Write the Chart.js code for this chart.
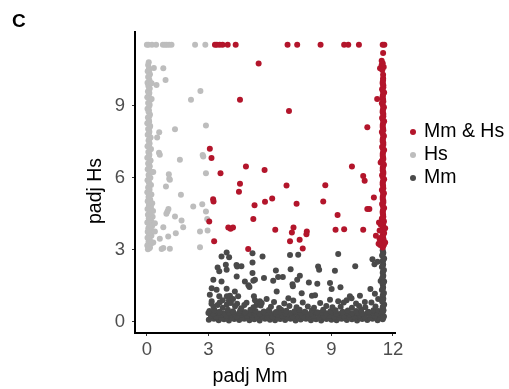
<!DOCTYPE html>
<html>
<head>
<meta charset="utf-8">
<script src="https://cdn.jsdelivr.net/npm/chart.js@4/dist/chart.umd.min.js"></script>
<style>
  html, body { margin: 0; padding: 0; background: #fff; }
  #c { display: block; }
</style>
</head>
<body>
<canvas id="c" width="509" height="389"></canvas>
<script>
// Axis ticks and titles
const xTicks = [0, 3, 6, 9, 12];
const yTicks = [0, 3, 6, 9];
const xTitle = 'padj Mm';
const yTitle = 'padj Hs';
const panelLabel = 'C';

// Series labels (legend order)
const seriesLabels = ['Mm & Hs', 'Hs', 'Mm'];

// Mm & Hs (red) - [padj Mm, padj Hs]
const bothPoints = [
  // top row (capped)
  [3.32,11.55],[3.41,11.55],[3.55,11.55],[3.69,11.55],[3.94,11.55],[4.33,11.55],
  [6.86,11.55],[7.33,11.55],[8.47,11.55],[9.62,11.55],[9.82,11.55],[10.34,11.55],
  [11.5,11.55],[11.58,11.55],
  // scattered
  [5.45,10.77],[6.93,8.79],[4.54,9.25],[11.37,10.57],[11.23,9.29],[10.75,8.11],
  [3.07,7.21],[3.15,6.83],[4.83,6.47],[3.59,6.19],[5.74,6.33],[10.0,6.47],
  [10.55,6.08],[10.62,5.88],[11.4,6.64],[4.54,5.75],[4.49,5.42],[6.81,5.68],
  [8.7,5.69],[3.23,5.11],[3.25,5.01],[5.25,4.86],[5.76,5.0],[6.11,5.14],
  [7.3,4.92],[8.6,5.01],[11.07,5.18],[10.75,4.7],[10.85,4.7],[9.3,4.45],
  [5.19,4.28],[3.04,4.18],[3.97,3.93],[4.08,3.88],[4.2,3.93],[6.26,3.83],
  [7.15,3.93],[7.07,3.72],[7.8,3.76],[7.78,3.65],[9.2,3.83],[9.62,3.86],
  [10.55,3.83],[11.32,4.14],[11.17,3.58],[3.28,3.36],[6.98,3.36],[7.45,3.42],
  [7.6,3.05],[4.94,3.03],
  // right-hand column
  [11.5,3.1],[11.56,3.21],[11.46,3.35],[11.53,3.46],[11.5,3.59],[11.57,3.7],
  [11.47,3.83],[11.53,3.95],[11.5,4.05],[11.56,4.19],[11.46,4.3],[11.52,4.46],
  [11.5,4.6],[11.57,4.74],[11.47,4.91],[11.53,5.04],[11.5,5.2],[11.56,5.36],
  [11.46,5.49],[11.52,5.66],[11.5,5.8],[11.57,5.94],[11.47,6.11],[11.53,6.24],
  [11.5,6.41],[11.56,6.54],[11.46,6.71],[11.52,6.85],[11.5,7.0],[11.57,7.16],
  [11.47,7.29],[11.53,7.46],[11.5,7.6],[11.56,7.74],[11.46,7.91],[11.52,8.05],
  [11.5,8.2],[11.57,8.36],[11.47,8.49],[11.53,8.66],[11.5,8.8],[11.56,8.94],
  [11.46,9.11],[11.52,9.25],[11.5,9.4],[11.57,9.56],[11.47,9.69],[11.53,9.86],
  [11.5,10.0],[11.52,10.15],[11.52,10.3],[11.48,10.5],[11.55,10.62],[11.45,10.7],
  [11.5,10.78],[11.45,10.88],[11.52,11.2],
  [11.52,3.16],[11.5,3.28],[11.54,3.4],[11.5,3.52],[11.53,3.64],[11.5,3.76],
  [11.52,3.89],[11.5,4.0],[11.53,4.12],[11.51,4.24],[11.53,4.38],[11.5,4.53],
  [11.52,4.67],[11.51,4.82],[11.53,4.97],[11.5,5.12],[11.52,5.28],[11.51,5.42],
  [11.53,5.57],[11.5,5.73],[11.52,5.87],[11.51,6.02],[11.53,6.17],[11.5,6.32],
  [11.52,6.47],[11.51,6.62],[11.53,6.78],[11.5,6.92],[11.52,7.08],[11.51,7.22],
  [11.53,7.38],[11.5,7.53],[11.52,7.67],[11.51,7.82],[11.53,7.98],[11.5,8.12],
  [11.52,8.28],[11.51,8.42],[11.53,8.57],[11.5,8.73],[11.52,8.87],[11.51,9.02],
  [11.53,9.18],[11.5,9.32],[11.52,9.48],[11.51,9.62],[11.53,9.78],[11.5,9.93],
  [11.52,10.08],
  [11.38,3.2],[11.42,3.5],[11.35,3.8],[11.4,4.05],[11.62,3.3],[11.62,3.9],
  [11.35,3.45],[11.3,3.25]
];

// Hs only (light grey)
const hsPoints = [
  // top row (capped)
  [0.0,11.55],[0.08,11.55],[0.25,11.55],[0.45,11.55],[0.78,11.55],[0.88,11.55],
  [0.97,11.55],[1.08,11.55],[1.2,11.55],[2.35,11.55],[2.85,11.55],
  // left column
  [0.05,3.02],[0.15,3.1],[0.02,3.18],[0.2,3.25],[0.08,3.33],[0.14,3.42],
  [0.03,3.5],[0.22,3.58],[0.1,3.66],[0.04,3.75],[0.18,3.82],[0.07,3.9],
  [0.25,3.98],[0.12,4.06],[0.02,4.14],[0.2,4.22],[0.09,4.3],[0.28,4.38],
  [0.05,4.46],[0.15,4.55],[0.3,4.62],[0.03,4.7],[0.2,4.78],[0.1,4.86],
  [0.26,4.94],[0.04,5.02],[0.16,5.1],[0.08,5.2],[0.22,5.3],[0.02,5.4],
  [0.13,5.5],[0.06,5.6],[0.2,5.7],[0.1,5.8],[0.03,5.9],[0.17,6.0],
  [0.08,6.12],[0.22,6.24],[0.04,6.36],[0.14,6.48],[0.06,6.6],[0.18,6.72],
  [0.02,6.84],[0.12,6.96],[0.07,7.08],[0.2,7.2],[0.03,7.32],[0.13,7.44],
  [0.08,7.56],[0.18,7.68],[0.04,7.8],[0.12,7.92],[0.06,8.04],[0.16,8.16],
  [0.02,8.28],[0.1,8.4],[0.05,8.52],[0.15,8.64],[0.08,8.76],[0.03,8.88],
  [0.12,9.0],[0.06,9.12],[0.16,9.24],[0.02,9.36],[0.1,9.48],[0.05,9.6],
  [0.14,9.72],[0.07,9.84],[0.03,9.96],[0.12,10.08],[0.06,10.2],[0.15,10.32],
  [0.04,10.44],[0.1,10.56],[0.06,10.7],[0.09,10.82],
  [0.12,3.06],[0.1,3.22],[0.13,3.38],[0.11,3.55],[0.12,3.7],[0.1,3.86],
  [0.13,4.02],[0.11,4.18],[0.12,4.34],[0.1,4.5],[0.13,4.66],[0.11,4.82],
  [0.12,4.98],[0.1,5.15],[0.13,5.35],[0.11,5.55],[0.12,5.75],[0.1,5.95],
  [0.13,6.18],[0.11,6.42],[0.12,6.66],[0.1,6.9],[0.13,7.14],[0.11,7.38],
  [0.12,7.62],[0.1,7.86],[0.13,8.1],[0.11,8.34],[0.12,8.58],[0.1,8.82],
  [0.13,9.06],[0.11,9.3],[0.12,9.54],[0.1,9.78],[0.13,10.02],[0.11,10.26],
  [0.12,10.5],
  // scattered
  [0.34,10.58],[0.8,10.57],[0.91,10.08],[0.47,9.87],[0.23,9.94],[2.61,9.62],
  [0.23,9.29],[2.15,9.25],[2.88,8.18],[1.37,8.03],[0.6,7.9],[0.5,7.68],
  [0.59,7.05],[0.63,6.96],[2.75,6.89],[2.72,6.95],[1.61,6.75],[0.31,6.24],
  [1.07,6.15],[2.88,6.19],[1.09,5.96],[1.12,5.92],[0.93,5.64],[1.66,5.29],
  [2.26,4.8],[2.7,4.9],[2.88,4.6],[0.95,4.5],[1.0,4.6],[1.05,4.7],
  [1.37,4.39],[1.69,4.22],[2.94,4.28],[0.39,4.11],[0.8,3.94],[1.77,3.94],
  [0.39,3.76],[2.59,3.76],[2.96,3.8],[1.41,3.69],[1.04,3.55],[0.63,3.46],
  [0.31,3.3],[0.8,3.07],[1.12,3.04],[2.59,3.11],[0.72,3.03]
];

// Mm only (dark grey)
const mmPoints = [
  // scattered upper part
  [3.89,2.89],[3.64,2.72],[4.01,2.69],[3.45,2.26],[3.85,2.38],[4.37,2.37],
  [4.4,2.3],[4.61,2.31],[3.89,2.17],[3.53,2.1],[4.38,1.89],[3.24,1.75],
  [3.64,1.68],[4.78,1.68],[4.95,1.52],[5.0,1.45],[5.27,1.75],[3.16,1.4],
  [3.4,1.33],[3.89,1.38],[4.29,1.26],[3.07,1.13],[3.53,1.06],[3.9,1.06],
  [4.05,1.08],[4.45,1.06],[3.16,0.85],[3.7,0.9],[4.0,0.88],[4.2,0.95],
  [4.86,0.79],[3.15,0.75],[3.45,0.7],[3.9,0.72],[4.4,0.75],[4.75,0.7],
  [5.27,0.9],[5.35,0.7],
  [5.15,2.86],[5.64,2.72],[6.98,2.78],[7.38,2.79],[9.33,2.82],[5.15,2.47],
  [11.0,2.6],[11.1,2.4],[11.25,2.5],[6.29,2.14],[7.01,2.19],[8.35,2.3],
  [8.4,2.17],[9.17,2.13],[10.16,2.31],[5.15,2.03],[7.46,1.92],[6.4,1.87],
  [6.63,1.87],[6.16,1.71],[5.71,1.82],[5.19,1.71],[7.33,1.75],[7.9,1.64],
  [8.31,1.58],[8.93,1.61],[7.1,1.56],[7.12,1.48],[9.44,1.44],[11.4,1.7],
  [9.01,1.36],[10.9,1.36],[6.33,1.26],[7.55,1.19],[8.05,1.08],[8.2,1.1],
  [10.39,1.08],[11.12,1.17],[5.22,1.06],[9.9,1.06],
  [5.84,0.95],[5.51,0.85],[6.9,0.98],[7.14,0.88],[8.93,0.92],[9.33,0.85],
  [9.74,0.9],[9.98,0.98],[10.63,0.82],[11.28,0.95],
  // dense band near zero
  [3.02,0.08],[3.27,0.12],[3.5,0.06],[3.76,0.1],[4.0,0.05],[4.26,0.11],
  [4.5,0.07],[4.75,0.12],[5.0,0.06],[5.24,0.1],[5.5,0.05],[5.76,0.12],
  [6.0,0.08],[6.25,0.06],[6.5,0.11],[6.74,0.07],[7.0,0.12],[7.25,0.05],
  [7.5,0.09],[7.76,0.12],[8.0,0.06],[8.25,0.1],[8.5,0.05],[8.76,0.11],
  [9.0,0.08],[9.25,0.06],[9.5,0.12],[9.75,0.07],[10.0,0.1],[10.25,0.05],
  [10.5,0.11],[10.75,0.07],[11.0,0.12],[11.25,0.06],
  [3.15,0.17],[3.4,0.19],[3.65,0.15],[3.9,0.18],[4.15,0.16],[4.4,0.19],
  [4.65,0.15],[4.9,0.18],[5.15,0.17],[5.4,0.15],[5.65,0.19],[5.9,0.16],
  [6.15,0.18],[6.4,0.15],[6.65,0.19],[6.9,0.17],[7.15,0.15],[7.4,0.18],
  [7.65,0.16],[7.9,0.19],[8.15,0.15],[8.4,0.17],[8.65,0.19],[8.9,0.16],
  [9.15,0.18],[9.4,0.15],[9.65,0.17],[9.9,0.19],[10.15,0.16],[10.4,0.18],
  [10.65,0.15],[10.9,0.17],[11.15,0.19],[11.38,0.16],
  [3.12,0.26],[3.38,0.22],[3.63,0.3],[3.88,0.24],[4.13,0.28],[4.38,0.22],
  [4.63,0.3],[4.88,0.25],[5.12,0.29],[5.38,0.23],[5.62,0.27],[5.88,0.3],
  [6.12,0.22],[6.38,0.28],[6.62,0.25],[6.88,0.3],[7.12,0.23],[7.38,0.27],
  [7.62,0.22],[7.88,0.29],[8.12,0.25],[8.38,0.3],[8.62,0.23],[8.88,0.27],
  [9.12,0.22],[9.38,0.29],[9.62,0.25],[9.88,0.3],[10.12,0.23],[10.38,0.27],
  [10.62,0.22],[10.88,0.29],[11.12,0.25],[11.32,0.3],
  [3.0,0.36],[3.25,0.34],[3.5,0.38],[3.75,0.35],[4.0,0.37],[4.25,0.34],
  [4.5,0.36],[4.75,0.38],[5.0,0.35],[5.25,0.37],[5.5,0.34],[5.75,0.36],
  [6.0,0.38],[6.25,0.35],[6.5,0.37],[6.75,0.34],[7.0,0.36],[7.25,0.38],
  [7.5,0.35],[7.75,0.37],[8.0,0.34],[8.25,0.36],[8.5,0.38],[8.75,0.35],
  [9.0,0.37],[9.25,0.34],[9.5,0.36],[9.75,0.38],[10.0,0.35],[10.25,0.37],
  [10.5,0.34],[10.75,0.36],[11.0,0.38],[11.25,0.35],
  [3.05,0.45],[3.3,0.48],[3.55,0.42],[3.95,0.5],[4.2,0.44],[4.55,0.47],
  [4.8,0.4],[5.05,0.5],[5.3,0.45],[5.7,0.43],[5.95,0.49],[6.3,0.41],
  [6.55,0.5],[6.8,0.46],[7.2,0.44],[7.45,0.5],[7.7,0.42],[8.05,0.47],
  [8.3,0.4],[8.6,0.5],[8.95,0.44],[9.2,0.48],[9.55,0.42],[9.8,0.47],
  [10.2,0.45],[10.45,0.5],[10.8,0.42],[11.05,0.48],[11.3,0.45],
  [3.25,0.62],[3.7,0.58],[4.3,0.65],[4.6,0.56],[5.2,0.6],[5.55,0.68],
  [6.05,0.62],[6.45,0.57],[6.95,0.66],[7.3,0.6],[7.85,0.64],[8.15,0.58],
  [8.75,0.66],[9.05,0.6],[9.45,0.62],[10.0,0.58],[10.35,0.66],[10.65,0.6],
  [11.15,0.64],
  [3.55,0.8],[4.1,0.78],[5.6,0.78],[6.2,0.82],[6.7,0.76],[7.6,0.8],
  [8.45,0.78],[9.6,0.8],[10.2,0.76],[10.95,0.8],
  // right-hand column
  [11.5,0.1],[11.56,0.22],[11.46,0.35],[11.54,0.48],[11.5,0.6],[11.57,0.72],
  [11.47,0.84],[11.53,0.96],[11.5,1.08],[11.56,1.2],[11.46,1.32],[11.52,1.44],
  [11.5,1.56],[11.57,1.68],[11.47,1.8],[11.53,1.92],[11.5,2.04],[11.56,2.16],
  [11.46,2.28],[11.52,2.4],[11.5,2.52],[11.57,2.64],[11.47,2.76],[11.53,2.88],
  [11.5,2.98],
  [11.52,0.16],[11.51,0.42],[11.53,0.66],[11.51,0.9],[11.52,1.14],[11.51,1.38],
  [11.53,1.62],[11.51,1.86],[11.52,2.1],[11.51,2.34],[11.53,2.58],[11.51,2.82]
];

const seriesColors = ['#b3152b', '#bdbdbd', '#4a4a4a'];

const FONT = '"Liberation Sans", Arial, Helvetica, sans-serif';

const toXY = pts => pts.map(p => ({ x: p[0], y: p[1] }));

// Titles, panel letter and legend drawn by hand to match ggplot placement
const decor = {
  id: 'decor',
  afterDraw(chart) {
    const ctx = chart.ctx;
    ctx.save();
    ctx.fillStyle = '#000';
    ctx.textBaseline = 'middle';

    ctx.font = 'bold 19px ' + FONT;
    ctx.textAlign = 'left';
    ctx.fillText(panelLabel, 12, 22);

    ctx.font = '19.5px ' + FONT;
    ctx.textAlign = 'center';
    ctx.fillText(xTitle, 250, 377);

    ctx.save();
    ctx.translate(96, 191);
    ctx.rotate(-Math.PI / 2);
    ctx.fillText(yTitle, 0, 0);
    ctx.restore();

    // legend
    ctx.textAlign = 'left';
    chart.data.datasets.forEach((ds, i) => {
      const y = 132 + i * 23;
      ctx.fillStyle = ds.backgroundColor;
      ctx.beginPath();
      ctx.arc(413, y, 3, 0, Math.PI * 2);
      ctx.fill();
      ctx.fillStyle = '#000';
      ctx.fillText(ds.label, 424, y);
    });
    ctx.restore();
  }
};

const ctx = document.getElementById('c').getContext('2d');
const chart = new Chart(ctx, {
  type: 'scatter',
  data: {
    datasets: [
      { label: seriesLabels[0], data: toXY(bothPoints), backgroundColor: seriesColors[0] },
      { label: seriesLabels[1], data: toXY(hsPoints), backgroundColor: seriesColors[1] },
      { label: seriesLabels[2], data: toXY(mmPoints), backgroundColor: seriesColors[2] }
    ]
  },
  options: {
    responsive: false,
    animation: false,
    devicePixelRatio: 1,
    layout: { padding: { top: 32, right: 114, left: 0, bottom: 0 } },
    elements: { point: { radius: 3, borderWidth: 0, hoverRadius: 3 } },
    plugins: { legend: { display: false }, tooltip: { enabled: false } },
    scales: {
      x: {
        type: 'linear',
        min: -0.58,
        max: 12.1,
        afterBuildTicks: s => { s.ticks = xTicks.map(v => ({ value: v })); },
        afterFit: s => { s.height = 56; },
        ticks: { color: '#4d4d4d', font: { family: FONT, size: 18.5 }, padding: 3, maxRotation: 0 },
        grid: { display: true, drawOnChartArea: false, drawTicks: true, tickLength: 3, color: '#333' },
        border: { display: true, color: '#000', width: 2 }
      },
      y: {
        type: 'linear',
        min: -0.47,
        max: 12.08,
        afterBuildTicks: s => { s.ticks = yTicks.map(v => ({ value: v })); },
        afterFit: s => { s.width = 135; },
        ticks: { color: '#4d4d4d', font: { family: FONT, size: 18.5 }, padding: 7 },
        grid: { display: true, drawOnChartArea: false, drawTicks: true, tickLength: 3, color: '#333' },
        border: { display: true, color: '#000', width: 2 }
      }
    }
  },
  plugins: [decor]
});
</script>
</body>
</html>
